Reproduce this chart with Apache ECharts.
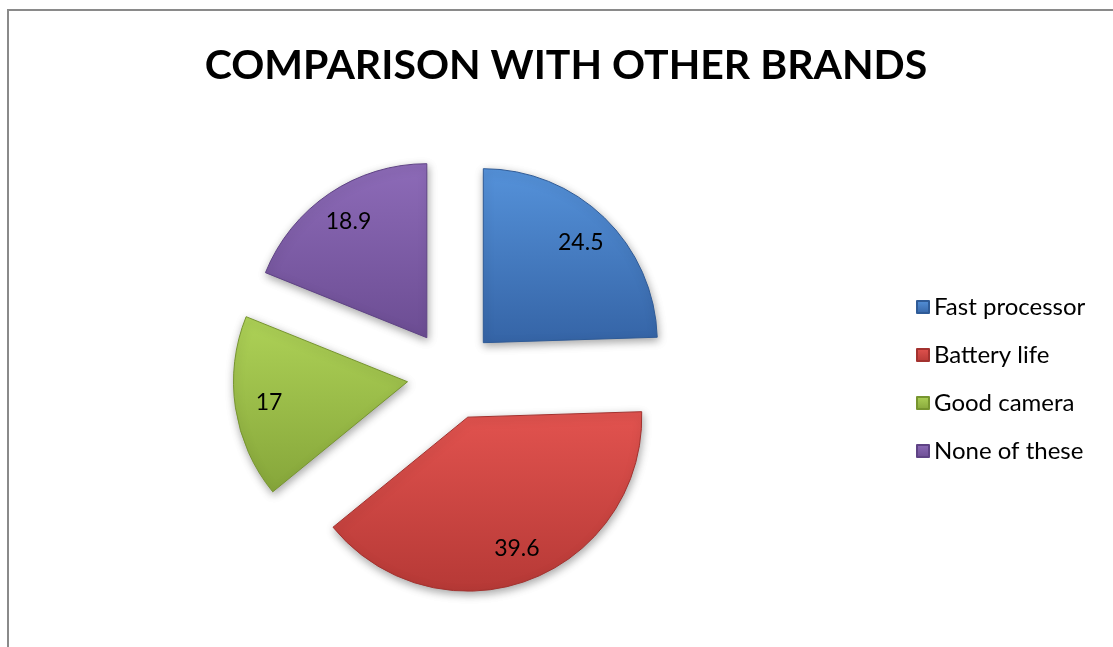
<!DOCTYPE html>
<html>
<head>
<meta charset="utf-8">
<title>Comparison with other brands</title>
<script src="https://cdn.jsdelivr.net/npm/echarts@6/dist/echarts.min.js"></script>
<style>
  html, body { margin: 0; padding: 0; background: #ffffff; }
  #chart { width: 1113px; height: 647px; }
</style>
</head>
<body>
<div id="chart"></div>
<script>
// Survey answers, in percent
const categories = ['Fast processor', 'Battery life', 'Good camera', 'None of these'];
const values = [24.5, 39.6, 17, 18.9];
const titleText = 'COMPARISON WITH OTHER BRANDS';

// Slice fills: [top, bottom] of a soft vertical gradient per category
const fills = [
  ['#5592da', '#3564a6'],
  ['#e2534f', '#b63936'],
  ['#aed257', '#86a63a'],
  ['#8d6bb8', '#6c4d93']
];
const edges = ['#2f5b97', '#a3322f', '#77952f', '#5f4385'];

const FONT = 'Lato, "Open Sans", sans-serif';
const CENTER = [452, 375];
const RADIUS = 174;
const EXPLODE = 45;

function grad(c) {
  return new echarts.graphic.LinearGradient(0, 0, 0, 1, [
    { offset: 0, color: c[0] },
    { offset: 1, color: c[1] }
  ]);
}

const sliceData = categories.map((name, i) => {
  const style = {
    color: grad(fills[i]),
    borderColor: edges[i],
    borderWidth: 1,
    shadowBlur: 8,
    shadowOffsetX: 1,
    shadowOffsetY: 3,
    shadowColor: 'rgba(0,0,0,0.35)'
  };
  return {
    name: name,
    value: values[i],
    selected: true,
    itemStyle: style,
    select: { itemStyle: style }
  };
});

// Transparent copy of the slices that only carries the value labels,
// so they sit further out from each slice's point than the default
const labelData = categories.map((name, i) => ({
  name: name,
  value: values[i],
  selected: true
}));

const chart = echarts.init(document.getElementById('chart'), null, { renderer: 'canvas' });

chart.setOption({
  backgroundColor: '#ffffff',
  animation: false,
  title: {
    text: titleText,
    left: 561,
    top: 40,
    textAlign: 'center',
    textStyle: {
      fontFamily: FONT,
      fontWeight: 'bold',
      fontSize: 41,
      color: '#000000'
    }
  },
  legend: {
    orient: 'vertical',
    left: 911,
    top: 290,
    icon: 'rect',
    itemWidth: 12,
    itemHeight: 12,
    itemGap: 24,
    selectedMode: false,
    data: categories,
    textStyle: {
      fontFamily: FONT,
      fontSize: 24,
      lineHeight: 24,
      color: '#000000',
      padding: [0, 0, 0, 0]
    }
  },
  graphic: [{
    type: 'polyline',
    silent: true,
    shape: { points: [[8, 647], [8, 10], [1113, 10]] },
    style: { stroke: '#8a8a8a', lineWidth: 2, fill: null }
  }],
  series: [
    {
      type: 'pie',
      name: 'slices',
      center: CENTER,
      radius: [0, RADIUS],
      startAngle: 90,
      clockwise: true,
      selectedMode: 'multiple',
      selectedOffset: EXPLODE,
      silent: true,
      label: { show: false },
      labelLine: { show: false },
      emphasis: { disabled: true },
      data: sliceData
    },
    {
      type: 'pie',
      name: 'labels',
      center: CENTER,
      radius: [0, 274],
      startAngle: 90,
      clockwise: true,
      selectedMode: 'multiple',
      selectedOffset: EXPLODE,
      silent: true,
      z: 5,
      avoidLabelOverlap: false,
      itemStyle: { color: 'rgba(0,0,0,0)' },
      select: { itemStyle: { color: 'rgba(0,0,0,0)', borderWidth: 0 } },
      emphasis: { disabled: true },
      labelLine: { show: false },
      label: {
        show: true,
        position: 'inside',
        formatter: p => String(p.value),
        fontFamily: FONT,
        fontSize: 23,
        color: '#000000'
      },
      data: labelData
    }
  ]
});
</script>
</body>
</html>
